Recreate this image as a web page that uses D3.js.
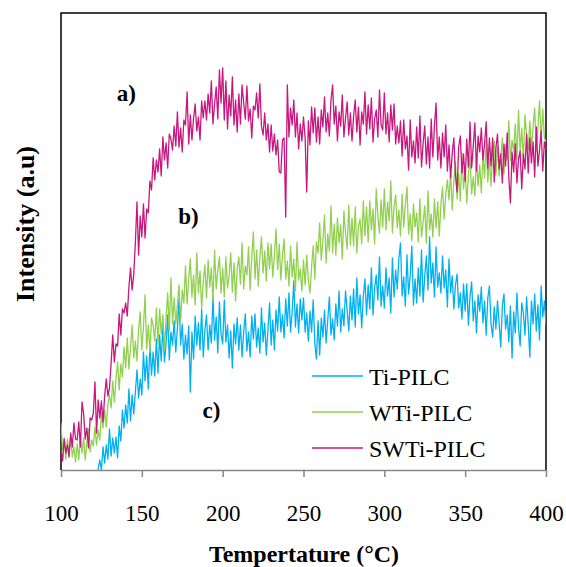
<!DOCTYPE html>
<html>
<head>
<meta charset="utf-8">
<script src="https://cdn.jsdelivr.net/npm/d3@7"></script>
<style>
  body { margin: 0; background: #fff; }
  svg { display: block; }
  text { font-family: "Liberation Serif", "Times New Roman", serif; fill: #000; }
</style>
</head>
<body>
<svg width="566" height="567"></svg>
<script>
// temperatures: 100..400 °C, one reading per degree
const tStart = 100, tStep = 1;

// Ti-PILC (curve c)
const tiPilc = [
  -55,-66,-50,-60,-45,-58,-40,-52,-38,-47,
  -34,-46,-26,-40,-28,-40,-20,-30,-12,-28,
  -26,-11,-18,1,10,0,23,7,25,11,
  41,14,32,17,33,12,44,29,60,42,
  65,47,81,49,75,56,78,100,72,91,
  75,118,89,114,81,126,95,118,94,131,
  97,135,109,144,108,127,155,110,138,125,
  149,118,142,171,125,146,111,135,116,144,
  78,138,111,154,125,147,120,161,113,140,
  155,120,145,127,174,130,153,117,168,136,
  126,170,128,145,112,139,102,146,126,152,
  120,145,113,138,156,119,138,113,154,131,
  156,123,142,117,162,128,147,115,140,167,
  125,150,120,160,139,173,138,155,132,171,
  144,177,138,158,189,143,166,137,171,150,
  172,138,157,129,159,138,170,127,111,149,
  115,152,133,160,127,150,173,135,151,130,
  166,144,179,138,161,144,179,160,139,174,
  150,181,143,192,156,175,142,174,191,155,
  185,161,202,155,182,195,170,213,164,184,
  162,202,174,192,157,212,173,200,181,212,
  227,174,193,164,215,176,194,224,165,191,
  167,202,174,220,168,194,214,180,233,187,
  207,173,223,183,197,177,214,182,200,163,
  211,177,194,161,185,196,162,177,151,186,
  159,186,145,174,188,149,169,137,175,159,
  183,147,169,135,172,184,146,133,163,141,
  169,147,123,164,176,141,155,128,164,112,
  158,137,177,142,124,167,157,135,173,145,
  113,169,146,176,139,165,130,184,153,169,
  145
];

// WTi-PILC (curve b)
const wtiPilc = [
  47,20,32,11,31,16,34,13,23,8,
  26,10,35,17,32,10,27,41,18,30,
  24,43,25,40,30,57,42,60,43,66,
  75,62,89,68,91,108,80,106,93,123,
  102,132,101,123,145,112,129,109,141,158,
  120,143,175,121,145,118,152,145,129,162,
  126,161,136,155,120,153,177,139,192,146,
  172,146,165,185,148,180,167,204,166,191,
  211,173,195,165,217,177,199,162,189,205,
  172,210,183,202,169,220,181,200,213,177,
  202,173,213,182,194,217,178,207,169,202,
  213,186,227,181,204,195,223,180,213,238,
  191,220,184,213,233,197,219,189,227,201,
  226,193,214,241,200,226,190,215,231,191,
  209,184,224,193,211,179,228,190,201,179,
  210,185,215,190,177,203,224,191,228,217,
  247,210,230,255,207,236,219,264,217,246,
  215,252,227,245,211,259,237,221,265,225,
  252,224,263,217,244,251,226,269,234,263,
  228,269,240,261,226,281,254,237,270,243,
  281,240,268,249,289,237,263,275,242,260,
  234,276,243,265,283,236,256,229,266,243,
  257,228,271,233,248,264,227,279,240,256,
  233,271,242,268,234,266,283,251,276,290,
  270,299,260,289,308,271,296,269,317,281,
  301,267,295,313,276,293,274,313,284,305,
  277,316,292,330,288,311,284,320,329,295,
  324,294,311,332,296,325,310,349,309,330,
  319,346,311,360,319,342,310,355,335,320,
  349,320,343,362,319,342,369,330,361,332,
  328
];

// SWTi-PILC (curve a)
const swtiPilc = [
  21,9,31,17,25,13,37,23,47,31,
  30,48,23,68,56,31,42,22,52,50,
  57,88,37,70,52,69,48,74,91,74,
  82,107,135,108,126,124,156,135,161,157,
  167,154,183,202,180,196,227,268,215,254,
  233,266,232,261,257,289,280,312,290,310,
  298,321,294,333,310,327,302,336,331,320,
  344,324,358,323,342,318,350,345,378,326,
  355,330,352,366,339,353,330,369,352,369,
  350,376,357,389,346,366,383,351,400,367,
  402,350,389,341,375,354,393,345,370,338,
  376,346,385,367,351,384,349,361,332,364,
  360,377,352,386,344,335,357,330,346,318,
  345,319,336,315,330,298,297,330,332,253,
  385,333,362,345,370,333,357,321,346,329,
  353,332,278,349,325,363,337,362,328,353,
  326,360,343,373,338,357,334,370,385,346,
  364,329,358,344,375,333,352,368,335,357,
  329,354,370,338,363,325,358,346,378,336,
  365,341,372,328,351,360,333,380,345,340,
  377,336,357,328,365,340,366,326,344,327,
  349,314,350,321,334,300,350,313,329,307,
  343,312,354,303,327,344,306,333,302,351,
  313,344,367,310,333,302,337,313,345,299,
  325,292,317,332,295,278,323,334,297,316,
  289,331,303,348,302,324,347,299,334,318,
  342,310,326,348,302,332,304,332,288,322,
  336,301,316,287,326,304,337,293,267,318,
  298,326,287,311,319,281,316,301,336,297,
  332,307,328,293,343,304,320,339,299,328,
  320
];

const xTicks = [100, 150, 200, 250, 300, 350, 400];
const seriesNames = ["Ti-PILC", "WTi-PILC", "SWTi-PILC"];
const seriesColors = ["#00B0F0", "#92D050", "#C8177F"];

const svg = d3.select("svg");

// plot box
const plotLeft = 61, plotRight = 546, plotTop = 13, plotBottom = 470;

const x = d3.scaleLinear().domain([100, 400]).range([plotLeft, plotRight]);
const y = d3.scaleLinear().domain([0, 457]).range([plotBottom, plotTop]);

svg.append("defs").append("clipPath")
  .attr("id", "plot")
  .append("rect")
  .attr("x", plotLeft).attr("y", plotTop)
  .attr("width", plotRight - plotLeft).attr("height", plotBottom - plotTop);

// frame (left, top, right in black)
svg.append("path")
  .attr("d", `M${plotLeft},${plotBottom}V${plotTop}H${plotRight}V${plotBottom}`)
  .attr("fill", "none")
  .attr("stroke", "#000")
  .attr("stroke-width", 1.5);

// the lines, Ti first so SWTi ends on top
const series = [tiPilc, wtiPilc, swtiPilc];
const line = d3.line()
  .x((d, i) => x(tStart + i * tStep))
  .y(d => y(d));

svg.append("g")
  .attr("clip-path", "url(#plot)")
  .selectAll("path")
  .data(series)
  .join("path")
    .attr("fill", "none")
    .attr("stroke", (d, i) => seriesColors[i])
    .attr("stroke-width", 1.3)
    .attr("stroke-linejoin", "round")
    .attr("d", line);

// x axis
const xAxis = svg.append("g")
  .attr("transform", `translate(0,${plotBottom})`)
  .call(d3.axisBottom(x).tickValues(xTicks).tickSize(7).tickSizeOuter(0).tickFormat(d3.format("d")));
xAxis.select(".domain").attr("stroke", "#878787").attr("stroke-width", 1.5);
xAxis.selectAll(".tick line").attr("stroke", "#878787").attr("stroke-width", 1.5);
xAxis.selectAll(".tick text")
  .attr("y", 51).attr("dy", 0)
  .style("font-family", '"Liberation Serif", "Times New Roman", serif')
  .style("font-size", "23px")
  .attr("fill", "#000");

// axis titles
svg.append("text")
  .attr("x", 304).attr("y", 562)
  .attr("text-anchor", "middle")
  .style("font-size", "24px").style("font-weight", "bold")
  .text("Tempertature (°C)");

svg.append("text")
  .attr("transform", "translate(34,224) rotate(-90)")
  .attr("text-anchor", "middle")
  .style("font-size", "26px").style("font-weight", "bold")
  .text("Intensity (a.u)");

// curve labels
const curveTags = [["a)", 134.5, 369], ["b)", 172.5, 246], ["c)", 187.5, 52]];
svg.selectAll(".tag")
  .data(curveTags)
  .join("text")
    .attr("class", "tag")
    .attr("x", d => x(d[1]))
    .attr("y", d => y(d[2]))
    .style("font-size", "23px").style("font-weight", "bold")
    .text(d => d[0]);

// legend
const legend = svg.append("g").attr("transform", "translate(312,376)");
seriesNames.forEach(function(name, i) {
  const item = legend.append("g").attr("transform", `translate(0,${i * 36})`);
  item.append("line")
    .attr("x1", 0).attr("x2", 51)
    .attr("stroke", seriesColors[i])
    .attr("stroke-width", 1.5);
  item.append("text")
    .attr("x", 57).attr("y", 9)
    .style("font-size", "24px")
    .text(name);
});
</script>
</body>
</html>
